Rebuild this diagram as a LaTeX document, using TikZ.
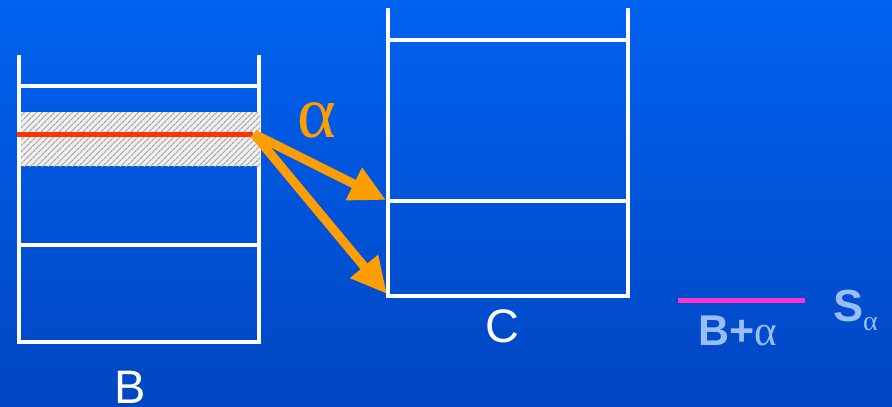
\documentclass[tikz,border=0pt]{standalone}
\usepackage{fontspec}
\setmainfont{Liberation Sans}
\newfontfamily\greekfont{Liberation Serif}
\usetikzlibrary{arrows.meta,patterns.meta}
\definecolor{bgtop}{HTML}{0062F0}
\definecolor{bgbot}{HTML}{0046C2}
\definecolor{arrorange}{HTML}{FF9E00}
\definecolor{redline}{HTML}{FF3300}
\definecolor{pinkline}{HTML}{FF33CC}
\definecolor{lightblue}{HTML}{9ABDFF}
\tikzset{
  wall/.style={white,line width=3.5pt},
  movearrow/.style={arrorange,line width=9pt,-{Triangle[length=36pt,width=34pt]}},
  boxlabel/.style={white,font=\fontsize{47}{47}\selectfont,inner sep=0pt}
}

\begin{document}
\begin{tikzpicture}[x=1pt,y=-1pt]
\shade[top color=bgtop,bottom color=bgbot] (0,0) rectangle (892,407);
\useasboundingbox (0,0) rectangle (892,407);
% B
\draw[wall] (19,55) -- (19,342) -- (259,342) -- (259,55);
\draw[wall] (19,86) -- (259,86);
\draw[wall] (19,245) -- (259,245);
\fill[gray!12] (21,112) rectangle (260,166);
\fill[pattern={Lines[angle=45,distance=4pt,line width=1.2pt]},pattern color=gray!75] (21,112) rectangle (260,166);
\draw[redline,line width=5pt] (17,134) -- (253,134);
\node[boxlabel] (b) at (130,387) {B};
% C
\draw[wall] (388,8) -- (388,296) -- (628,296) -- (628,8);
\draw[wall] (388,40) -- (628,40);
\draw[wall] (388,201) -- (628,201);
\node[boxlabel] (c) at (502,326) {C};
% arrows
\coordinate (src) at (254,134);
\coordinate (upper) at (386,200);
\coordinate (lower) at (387,294);
\draw[movearrow] (src) -- (upper);
\draw[movearrow] (src) -- (lower);
\node[arrorange,inner sep=0pt,font=\greekfont\fontsize{74}{74}\selectfont] (alpha) at (317,120) {α};
% legend
\coordinate (la) at (678,300);
\coordinate (lb) at (805,300);
\draw[pinkline,line width=5pt] (la) -- (lb);
\node[lightblue,inner sep=0pt,font=\bfseries\fontsize{43}{43}\selectfont] (bplus) at (738,331) {B+{\greekfont\mdseries α}};
\node[lightblue,inner sep=0pt,font=\bfseries\fontsize{45}{45}\selectfont,anchor=base west] (s) at (833,321) {S\raisebox{-9pt}{\fontsize{28}{28}\selectfont\greekfont\mdseries α}};
\end{tikzpicture}
\end{document}
